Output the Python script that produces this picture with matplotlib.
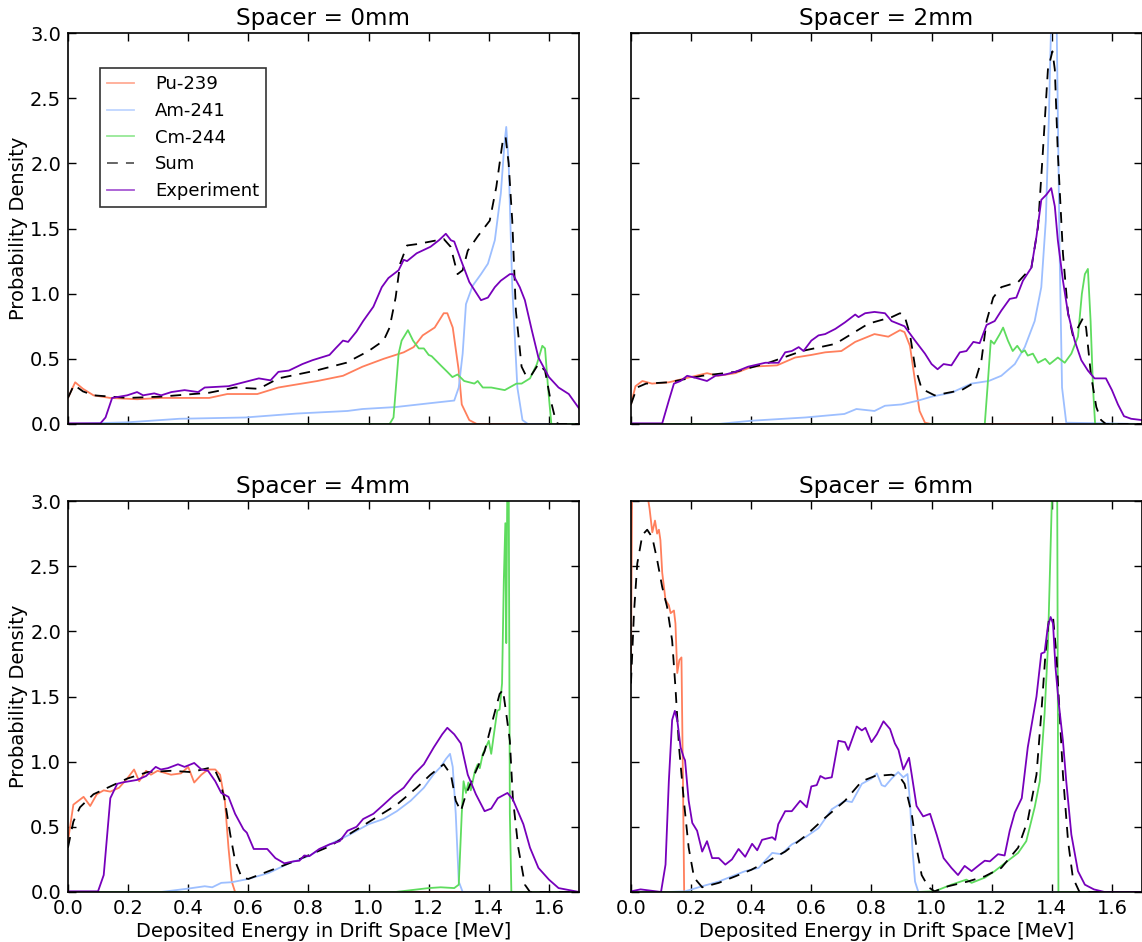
import matplotlib
matplotlib.use("Agg")
import matplotlib.pyplot as plt

# ---- simulated components and measured spectrum, per spacer thickness ----
# each list holds (energy [MeV], probability density) pairs

# Spacer = 0mm
pu_0 = [(0, 0.2), (0.024, 0.32), (0.05, 0.27), (0.085, 0.22), (0.14, 0.2), (0.23, 0.19), (0.31, 0.2),
        (0.47, 0.2), (0.53, 0.23), (0.63, 0.23), (0.70, 0.28), (0.83, 0.33), (0.915, 0.37), (0.98, 0.44),
        (1.05, 0.5), (1.117, 0.55), (1.15, 0.59), (1.18, 0.68), (1.22, 0.74), (1.25, 0.85), (1.262, 0.85),
        (1.28, 0.74), (1.30, 0.41), (1.31, 0.15), (1.335, 0.03), (1.36, 0), (1.7, 0)]
am_0 = [(0, 0), (0.2, 0.013), (0.37, 0.04), (0.59, 0.05), (0.76, 0.08), (0.93, 0.1), (0.98, 0.115),
        (1.09, 0.13), (1.206, 0.16), (1.285, 0.18), (1.30, 0.28), (1.313, 0.54), (1.324, 0.92),
        (1.346, 1.06), (1.374, 1.15), (1.397, 1.23), (1.42, 1.41), (1.44, 1.77), (1.452, 2.15),
        (1.458, 2.28), (1.466, 2.0), (1.478, 1.05), (1.495, 0.28), (1.512, 0.03), (1.53, 0), (1.7, 0)]
cm_0 = [(0, 0), (1.07, 0), (1.083, 0.05), (1.10, 0.54), (1.11, 0.64), (1.131, 0.72), (1.148, 0.64),
        (1.167, 0.58), (1.184, 0.58), (1.20, 0.53), (1.21, 0.52), (1.24, 0.45), (1.262, 0.40),
        (1.279, 0.36), (1.296, 0.38), (1.318, 0.33), (1.352, 0.31), (1.363, 0.33), (1.38, 0.28),
        (1.408, 0.28), (1.453, 0.26), (1.492, 0.31), (1.509, 0.31), (1.537, 0.35), (1.56, 0.46),
        (1.578, 0.60), (1.587, 0.58), (1.597, 0.28), (1.608, 0), (1.7, 0)]
sum_0 = [(0, 0.2), (0.02, 0.3), (0.05, 0.25), (0.085, 0.22), (0.2, 0.2), (0.31, 0.21), (0.47, 0.24),
         (0.556, 0.28), (0.635, 0.27), (0.70, 0.35), (0.825, 0.41), (0.926, 0.47), (1.0, 0.56),
         (1.05, 0.64), (1.07, 0.74), (1.09, 0.97), (1.105, 1.23), (1.128, 1.37), (1.16, 1.38),
         (1.206, 1.40), (1.25, 1.42), (1.273, 1.36), (1.296, 1.15), (1.313, 1.18), (1.33, 1.33),
         (1.363, 1.44), (1.403, 1.56), (1.425, 1.82), (1.448, 2.2), (1.456, 2.2), (1.466, 2.0),
         (1.478, 1.56), (1.49, 0.87), (1.509, 0.44), (1.526, 0.36), (1.543, 0.38), (1.565, 0.46),
         (1.587, 0.41), (1.604, 0.2), (1.62, 0.05), (1.63, 0), (1.7, 0)]
exp_0 = [(0, 0.005), (0.108, 0.005), (0.125, 0.05), (0.147, 0.2), (0.197, 0.22), (0.23, 0.245),
         (0.25, 0.22), (0.287, 0.235), (0.31, 0.22), (0.344, 0.245), (0.388, 0.26), (0.433, 0.245),
         (0.455, 0.28), (0.534, 0.29), (0.635, 0.35), (0.674, 0.335), (0.70, 0.40), (0.735, 0.41),
         (0.78, 0.46), (0.814, 0.49), (0.87, 0.53), (0.89, 0.58), (0.915, 0.64), (0.932, 0.63),
         (0.96, 0.71), (0.982, 0.79), (1.016, 0.90), (1.044, 1.05), (1.066, 1.12), (1.10, 1.18),
         (1.117, 1.26), (1.128, 1.25), (1.16, 1.31), (1.206, 1.36), (1.234, 1.41), (1.257, 1.46),
         (1.274, 1.41), (1.285, 1.40), (1.307, 1.26), (1.335, 1.09), (1.346, 1.05), (1.374, 0.95),
         (1.397, 0.97), (1.42, 1.05), (1.44, 1.10), (1.47, 1.15), (1.48, 1.15), (1.503, 1.05),
         (1.52, 0.95), (1.543, 0.72), (1.565, 0.51), (1.60, 0.36), (1.632, 0.28), (1.666, 0.23),
         (1.70, 0.12)]

# Spacer = 2mm
pu_2 = [(0, 0.15), (0.015, 0.29), (0.038, 0.33), (0.07, 0.31), (0.126, 0.32), (0.18, 0.35),
        (0.253, 0.39), (0.29, 0.37), (0.347, 0.39), (0.403, 0.44), (0.486, 0.45), (0.546, 0.51),
        (0.60, 0.53), (0.646, 0.55), (0.70, 0.56), (0.746, 0.63), (0.81, 0.69), (0.856, 0.67),
        (0.895, 0.72), (0.91, 0.705), (0.928, 0.6), (0.945, 0.33), (0.96, 0.1), (0.978, 0.01),
        (0.998, 0), (1.7, 0)]
am_2 = [(0, 0), (0.29, 0), (0.40, 0.025), (0.58, 0.05), (0.71, 0.077), (0.75, 0.115), (0.81, 0.10),
        (0.845, 0.14), (0.90, 0.15), (0.956, 0.18), (1.0, 0.21), (1.066, 0.24), (1.133, 0.31),
        (1.19, 0.33), (1.232, 0.37), (1.277, 0.46), (1.31, 0.59), (1.343, 0.79), (1.365, 1.05),
        (1.38, 1.56), (1.39, 2.33), (1.398, 3.1), (1.406, 3.7), (1.416, 3.1), (1.426, 1.31),
        (1.434, 0.28), (1.448, 0.01), (1.7, 0)]
cm_2 = [(0, 0), (1.177, 0), (1.186, 0.28), (1.197, 0.64), (1.208, 0.615), (1.227, 0.69), (1.238, 0.74),
        (1.254, 0.64), (1.27, 0.56), (1.285, 0.6), (1.30, 0.55), (1.31, 0.565), (1.32, 0.525),
        (1.337, 0.54), (1.354, 0.47), (1.378, 0.5), (1.393, 0.46), (1.42, 0.51), (1.443, 0.47),
        (1.465, 0.54), (1.487, 0.67), (1.50, 1.0), (1.51, 1.15), (1.52, 1.19), (1.529, 0.79),
        (1.537, 0.28), (1.544, 0), (1.7, 0)]
sum_2 = [(0, 0.15), (0.02, 0.28), (0.05, 0.31), (0.126, 0.32), (0.237, 0.37), (0.347, 0.40),
         (0.458, 0.47), (0.569, 0.56), (0.68, 0.615), (0.79, 0.77), (0.867, 0.82), (0.895, 0.85),
         (0.91, 0.83), (0.928, 0.69), (0.945, 0.44), (0.967, 0.27), (1.01, 0.22), (1.1, 0.26),
         (1.144, 0.32), (1.166, 0.49), (1.183, 0.79), (1.205, 0.97), (1.232, 1.05), (1.288, 1.09),
         (1.332, 1.2), (1.354, 1.51), (1.37, 2.08), (1.387, 2.72), (1.402, 2.86), (1.41, 2.72),
         (1.42, 2.08), (1.437, 1.31), (1.454, 0.85), (1.47, 0.68), (1.487, 0.74), (1.503, 0.81),
         (1.514, 0.74), (1.53, 0.38), (1.548, 0.13), (1.564, 0.03), (1.58, 0), (1.7, 0)]
exp_2 = [(0, 0.005), (0.104, 0.005), (0.126, 0.18), (0.143, 0.31), (0.165, 0.33), (0.187, 0.37),
         (0.214, 0.355), (0.253, 0.33), (0.281, 0.37), (0.314, 0.38), (0.347, 0.40), (0.39, 0.44),
         (0.447, 0.47), (0.491, 0.47), (0.513, 0.55), (0.535, 0.56), (0.558, 0.59), (0.574, 0.56),
         (0.60, 0.64), (0.624, 0.68), (0.646, 0.69), (0.68, 0.73), (0.712, 0.78), (0.746, 0.84),
         (0.757, 0.82), (0.779, 0.85), (0.81, 0.86), (0.845, 0.85), (0.867, 0.79), (0.91, 0.75),
         (0.945, 0.64), (0.978, 0.54), (1.0, 0.46), (1.02, 0.42), (1.04, 0.46), (1.066, 0.45),
         (1.094, 0.55), (1.116, 0.56), (1.139, 0.63), (1.16, 0.62), (1.183, 0.76), (1.21, 0.79),
         (1.232, 0.87), (1.26, 0.96), (1.282, 0.97), (1.304, 1.10), (1.332, 1.2), (1.349, 1.44),
         (1.365, 1.72), (1.382, 1.76), (1.398, 1.81), (1.41, 1.67), (1.42, 1.41), (1.437, 1.10),
         (1.454, 0.85), (1.476, 0.64), (1.498, 0.49), (1.52, 0.41), (1.542, 0.35), (1.58, 0.35),
         (1.60, 0.26), (1.62, 0.15), (1.64, 0.06), (1.664, 0.04), (1.7, 0.03)]

# Spacer = 4mm
pu_4 = [(0, 0.39), (0.018, 0.67), (0.035, 0.70), (0.052, 0.73), (0.074, 0.66), (0.096, 0.75),
        (0.119, 0.78), (0.141, 0.77), (0.17, 0.80), (0.197, 0.87), (0.22, 0.94), (0.237, 0.85),
        (0.26, 0.93), (0.276, 0.90), (0.298, 0.93), (0.343, 0.90), (0.376, 0.91), (0.4, 0.96),
        (0.42, 0.84), (0.444, 0.90), (0.466, 0.94), (0.49, 0.94), (0.506, 0.90), (0.522, 0.70),
        (0.534, 0.34), (0.545, 0.08), (0.556, 0), (1.7, 0)]
am_4 = [(0, 0), (0.31, 0), (0.40, 0.026), (0.455, 0.044), (0.48, 0.036), (0.51, 0.07), (0.545, 0.075),
        (0.60, 0.10), (0.668, 0.146), (0.735, 0.22), (0.80, 0.275), (0.87, 0.365), (0.937, 0.44),
        (1.0, 0.52), (1.05, 0.56), (1.094, 0.62), (1.14, 0.70), (1.184, 0.80), (1.217, 0.905),
        (1.24, 0.96), (1.257, 1.02), (1.271, 1.06), (1.28, 0.96), (1.29, 0.6), (1.30, 0.08),
        (1.313, 0), (1.7, 0)]
cm_4 = [(0, 0), (1.09, 0), (1.2, 0.03), (1.24, 0.036), (1.285, 0.03), (1.30, 0.056), (1.31, 0.6),
        (1.316, 0.85), (1.324, 0.76), (1.332, 0.84), (1.34, 0.78), (1.354, 0.93), (1.363, 0.98),
        (1.37, 0.95), (1.38, 1.06), (1.39, 1.11), (1.40, 1.16), (1.408, 1.06), (1.42, 1.26),
        (1.428, 1.39), (1.436, 1.40), (1.444, 1.6), (1.45, 2.4), (1.455, 2.83), (1.458, 1.91),
        (1.462, 3.3), (1.466, 3.3), (1.47, 0.6), (1.475, 0), (1.7, 0)]
sum_4 = [(0, 0.34), (0.018, 0.54), (0.04, 0.65), (0.085, 0.75), (0.141, 0.81), (0.197, 0.87),
         (0.265, 0.92), (0.343, 0.93), (0.41, 0.92), (0.466, 0.95), (0.49, 0.93), (0.506, 0.85),
         (0.522, 0.70), (0.54, 0.44), (0.556, 0.24), (0.578, 0.11), (0.60, 0.10), (0.668, 0.16),
         (0.758, 0.24), (0.87, 0.35), (0.982, 0.51), (1.094, 0.67), (1.16, 0.80), (1.206, 0.90),
         (1.25, 0.98), (1.274, 0.90), (1.29, 0.70), (1.307, 0.62), (1.324, 0.75), (1.352, 0.90),
         (1.386, 1.08), (1.413, 1.32), (1.436, 1.52), (1.447, 1.55), (1.458, 1.37), (1.47, 1.16),
         (1.48, 0.72), (1.498, 0.34), (1.52, 0.056), (1.537, 0), (1.7, 0)]
exp_4 = [(0, 0.005), (0.1, 0.005), (0.119, 0.13), (0.141, 0.72), (0.164, 0.83), (0.18, 0.84),
         (0.23, 0.86), (0.26, 0.89), (0.292, 0.96), (0.309, 0.94), (0.332, 0.95), (0.366, 0.98),
         (0.388, 0.96), (0.42, 0.99), (0.444, 0.94), (0.466, 0.93), (0.49, 0.85), (0.51, 0.76),
         (0.534, 0.73), (0.556, 0.60), (0.584, 0.48), (0.595, 0.455), (0.618, 0.33), (0.663, 0.33),
         (0.69, 0.26), (0.72, 0.22), (0.75, 0.235), (0.77, 0.24), (0.786, 0.28), (0.803, 0.275),
         (0.836, 0.33), (0.87, 0.365), (0.904, 0.39), (0.93, 0.47), (0.96, 0.50), (0.982, 0.56),
         (1.016, 0.6), (1.05, 0.67), (1.083, 0.74), (1.117, 0.80), (1.15, 0.90), (1.184, 0.98),
         (1.217, 1.11), (1.245, 1.21), (1.262, 1.26), (1.285, 1.21), (1.307, 1.14), (1.33, 0.9),
         (1.357, 0.75), (1.386, 0.62), (1.408, 0.64), (1.43, 0.72), (1.462, 0.76), (1.48, 0.71),
         (1.515, 0.52), (1.537, 0.34), (1.565, 0.185), (1.60, 0.095), (1.632, 0.03), (1.7, 0)]

# Spacer = 6mm
pu_6 = [(0, 1.7), (0.004, 3.2), (0.02, 3.6), (0.045, 3.3), (0.058, 3.0), (0.062, 2.94), (0.071, 2.76),
        (0.08, 2.85), (0.087, 2.75), (0.093, 2.78), (0.098, 2.70), (0.104, 2.45), (0.115, 2.24),
        (0.126, 2.2), (0.132, 2.14), (0.143, 2.16), (0.148, 2.06), (0.154, 1.68), (0.161, 1.78),
        (0.168, 1.80), (0.173, 0.85), (0.177, 0), (1.7, 0)]
am_6 = [(0, 0), (0.126, 0), (0.18, 0.005), (0.237, 0.044), (0.292, 0.08), (0.325, 0.11), (0.38, 0.16),
        (0.425, 0.185), (0.47, 0.30), (0.5, 0.29), (0.535, 0.365), (0.58, 0.42), (0.624, 0.49),
        (0.668, 0.635), (0.712, 0.70), (0.735, 0.69), (0.768, 0.83), (0.8, 0.87), (0.818, 0.91),
        (0.834, 0.82), (0.845, 0.81), (0.867, 0.87), (0.889, 0.92), (0.906, 0.88), (0.92, 0.905),
        (0.928, 0.70), (0.936, 0.34), (0.945, 0.08), (0.956, 0), (1.7, 0)]
cm_6 = [(0, 0), (0.956, 0), (1.01, 0.005), (1.066, 0.056), (1.116, 0.095), (1.133, 0.07), (1.177, 0.11),
        (1.21, 0.16), (1.243, 0.22), (1.288, 0.30), (1.315, 0.39), (1.343, 0.65), (1.36, 0.85),
        (1.376, 1.37), (1.387, 1.88), (1.396, 2.65), (1.40, 3.0), (1.41, 4.5), (1.418, 3.0),
        (1.422, 0), (1.7, 0)]
sum_6 = [(0, 1.6), (0.01, 2.14), (0.021, 2.52), (0.038, 2.74), (0.054, 2.78), (0.071, 2.72),
         (0.087, 2.55), (0.104, 2.34), (0.12, 2.19), (0.137, 1.93), (0.148, 1.57), (0.16, 1.11),
         (0.176, 0.70), (0.192, 0.34), (0.21, 0.11), (0.237, 0.036), (0.292, 0.07), (0.347, 0.12),
         (0.4, 0.17), (0.458, 0.24), (0.513, 0.31), (0.58, 0.43), (0.646, 0.57), (0.712, 0.70),
         (0.768, 0.85), (0.812, 0.89), (0.867, 0.90), (0.895, 0.88), (0.91, 0.83), (0.934, 0.6),
         (0.95, 0.34), (0.967, 0.13), (0.99, 0.036), (1.01, 0.005), (1.055, 0.044), (1.12, 0.08),
         (1.177, 0.12), (1.232, 0.185), (1.288, 0.34), (1.32, 0.55), (1.349, 0.9), (1.365, 1.37),
         (1.378, 1.80), (1.39, 2.09), (1.404, 2.11), (1.415, 1.83), (1.426, 1.37), (1.437, 0.9),
         (1.454, 0.39), (1.47, 0.11), (1.492, 0), (1.7, 0)]
exp_6 = [(0, 0.005), (0.032, 0.02), (0.1, 0), (0.115, 0.21), (0.126, 0.85), (0.137, 1.32),
         (0.146, 1.39), (0.154, 1.32), (0.165, 1.11), (0.176, 1.03), (0.18, 1.01), (0.192, 0.70),
         (0.204, 0.53), (0.22, 0.47), (0.237, 0.31), (0.253, 0.39), (0.27, 0.26), (0.292, 0.26),
         (0.314, 0.21), (0.336, 0.25), (0.358, 0.33), (0.38, 0.27), (0.403, 0.37), (0.42, 0.32),
         (0.436, 0.40), (0.47, 0.42), (0.48, 0.40), (0.49, 0.52), (0.513, 0.62), (0.535, 0.62),
         (0.563, 0.70), (0.585, 0.65), (0.6, 0.81), (0.618, 0.82), (0.63, 0.89), (0.646, 0.87),
         (0.668, 0.88), (0.69, 1.16), (0.712, 1.15), (0.723, 1.09), (0.751, 1.27), (0.768, 1.24),
         (0.78, 1.26), (0.8, 1.15), (0.818, 1.21), (0.84, 1.31), (0.862, 1.25), (0.878, 1.14),
         (0.89, 1.09), (0.906, 0.94), (0.925, 1.03), (0.934, 0.90), (0.95, 0.66), (0.972, 0.58),
         (0.995, 0.6), (1.017, 0.44), (1.04, 0.26), (1.066, 0.185), (1.088, 0.13), (1.11, 0.2),
         (1.133, 0.16), (1.16, 0.21), (1.177, 0.24), (1.194, 0.235), (1.221, 0.29), (1.243, 0.28),
         (1.26, 0.47), (1.277, 0.61), (1.3, 0.72), (1.32, 1.11), (1.349, 1.50), (1.365, 1.83),
         (1.376, 1.84), (1.387, 2.04), (1.396, 2.11), (1.404, 2.06), (1.412, 1.73), (1.422, 1.47),
         (1.437, 1.16), (1.448, 0.85), (1.465, 0.44), (1.487, 0.16), (1.51, 0.056), (1.54, 0.02),
         (1.575, 0), (1.7, 0)]

spacers = ["0mm", "2mm", "4mm", "6mm"]
panels = [
    (pu_0, am_0, cm_0, sum_0, exp_0),
    (pu_2, am_2, cm_2, sum_2, exp_2),
    (pu_4, am_4, cm_4, sum_4, exp_4),
    (pu_6, am_6, cm_6, sum_6, exp_6),
]
series_labels = ["Pu-239", "Am-241", "Cm-244", "Sum", "Experiment"]
series_colors = ["#ff7f5c", "#9dbfff", "#5edc5e", "black", "#7700bb"]
series_styles = ["-", "-", "-", "--", "-"]

x_ticks = [0.0, 0.2, 0.4, 0.6, 0.8, 1.0, 1.2, 1.4, 1.6]
y_ticks = [0.0, 0.5, 1.0, 1.5, 2.0, 2.5, 3.0]

plt.rcParams["font.family"] = ["DejaVu Sans"]

fig = plt.figure(figsize=(11.42, 9.42), dpi=100)
lefts = [0.0595, 0.5525]
bottoms = [0.5499, 0.0531]
w, h = 0.4475, 0.415

for idx, (spacer, data) in enumerate(zip(spacers, panels)):
    row, col = divmod(idx, 2)
    ax = fig.add_axes([lefts[col], bottoms[row], w, h])
    for pts, lab, c, ls in zip(data, series_labels, series_colors, series_styles):
        xs = [p[0] for p in pts]
        ys = [p[1] for p in pts]
        if ls == "--":
            ax.plot(xs, ys, color=c, lw=1.3, dashes=(6, 4.5), label=lab)
        else:
            ax.plot(xs, ys, color=c, lw=1.3, label=lab)
    ax.set_xlim(0, 1.7)
    ax.set_ylim(0, 3.0)
    ax.set_xticks(x_ticks)
    ax.set_yticks(y_ticks)
    ax.set_title(f"Spacer = {spacer}", fontsize=16.7, pad=6)
    ax.tick_params(direction="in", top=True, right=True, length=6, width=1,
                   labelsize=14, pad=5)
    for s in ax.spines.values():
        s.set_linewidth(1.2)
    if row == 0:
        ax.tick_params(labelbottom=False)
    else:
        ax.set_xlabel("Deposited Energy in Drift Space [MeV]", fontsize=14, labelpad=3)
    if col == 1:
        ax.tick_params(labelleft=False)
    else:
        ax.set_ylabel("Probability Density", fontsize=14, labelpad=1)
    if idx == 0:
        leg = ax.legend(loc="upper left", bbox_to_anchor=(0.0625, 0.9105), borderaxespad=0,
                        fontsize=13, fancybox=False, handlelength=1.5, handletextpad=1.15,
                        labelspacing=0.48, borderpad=0.4)
        leg.get_frame().set_edgecolor("black")
        leg.get_frame().set_linewidth(1.2)
        for ln in leg.get_lines():
            ln.set_alpha(0.65)

fig.savefig("out.png", dpi=100)
